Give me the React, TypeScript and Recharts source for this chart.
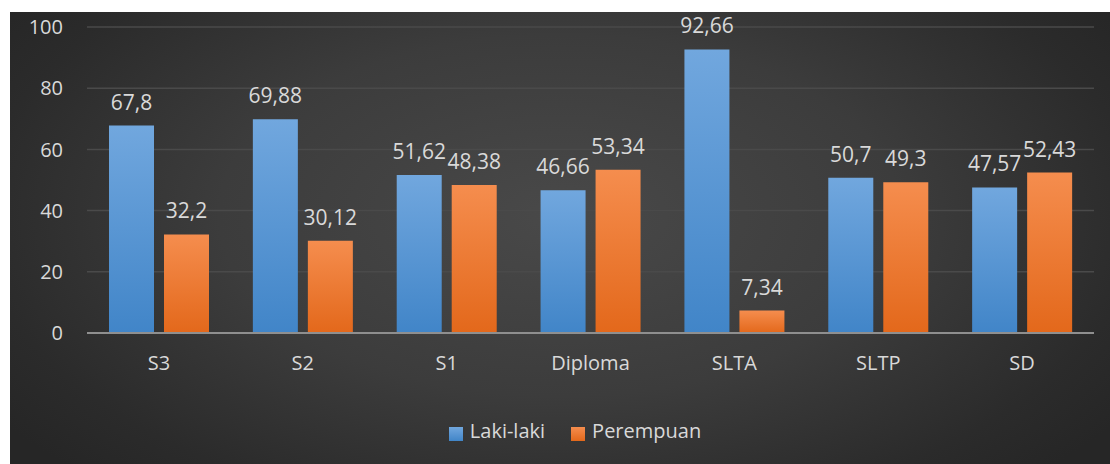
import { BarChart, Bar, XAxis, YAxis, CartesianGrid, Legend, LabelList } from "recharts";

const categories = ["S3", "S2", "S1", "Diploma", "SLTA", "SLTP", "SD"];
const lakiLaki = [67.8, 69.88, 51.62, 46.66, 92.66, 50.7, 47.57];
const perempuan = [32.2, 30.12, 48.38, 53.34, 7.34, 49.3, 52.43];
const yTicks = [0, 20, 40, 60, 80, 100];

const data = categories.map((name, i) => ({
  name,
  laki: lakiLaki[i],
  perempuan: perempuan[i],
}));

const TEXT = "#d9d9d9";
const FONT = "'Open Sans', sans-serif";

const fmt = (v: any) => String(v).replace(".", ",");

export default function App() {
  return (
    <div
      style={{
        position: "absolute",
        left: 10,
        top: 12,
        width: 1100,
        height: 452,
        background:
          "radial-gradient(ellipse 62% 80% at 50% 45%, #494949 0%, #3c3c3c 50%, #2b2b2b 85%, #262626 100%)",
        fontFamily: FONT,
      }}
    >
      <BarChart
        width={1100}
        height={452}
        data={data}
        margin={{ top: 15, right: 16, left: 0, bottom: 20 }}
        barSize={45}
        barGap={10}
      >
        <defs>
          <linearGradient id="gBlue" x1="0" y1="0" x2="0" y2="1">
            <stop offset="0%" stopColor="#71a7de" />
            <stop offset="100%" stopColor="#4185c8" />
          </linearGradient>
          <linearGradient id="gOrange" x1="0" y1="0" x2="0" y2="1">
            <stop offset="0%" stopColor="#f58d4e" />
            <stop offset="100%" stopColor="#e3681b" />
          </linearGradient>
        </defs>
        <CartesianGrid vertical={false} stroke="#4a4a4a" strokeWidth={1.5} />
        <XAxis
          dataKey="name"
          height={84}
          tickLine={false}
          axisLine={{ stroke: "#8f8f8f", strokeWidth: 2 }}
          tick={{ fill: TEXT, fontSize: 20, fontFamily: FONT }}
          tickMargin={17}
        />
        <YAxis
          domain={[0, 100]}
          ticks={yTicks}
          width={77}
          axisLine={false}
          tickLine={false}
          tickMargin={18}
          tick={{ fill: TEXT, fontSize: 20, fontFamily: FONT }}
        />
        <Legend
          verticalAlign="bottom"
          iconType="square"
          iconSize={14}
          wrapperStyle={{ paddingLeft: 36 }}
          formatter={(value: any) => (
            <span style={{ color: TEXT, fontSize: 20, fontFamily: FONT, marginLeft: 3, marginRight: 16 }}>
              {value}
            </span>
          )}
        />
        <Bar dataKey="laki" name="Laki-laki" fill="url(#gBlue)" isAnimationActive={false}>
          <LabelList
            dataKey="laki"
            position="top"
            offset={16}
            formatter={fmt}
            style={{ fill: TEXT, fontSize: 21, fontFamily: FONT }}
          />
        </Bar>
        <Bar dataKey="perempuan" name="Perempuan" fill="url(#gOrange)" isAnimationActive={false}>
          <LabelList
            dataKey="perempuan"
            position="top"
            offset={16}
            formatter={fmt}
            style={{ fill: TEXT, fontSize: 21, fontFamily: FONT }}
          />
        </Bar>
      </BarChart>
    </div>
  );
}
